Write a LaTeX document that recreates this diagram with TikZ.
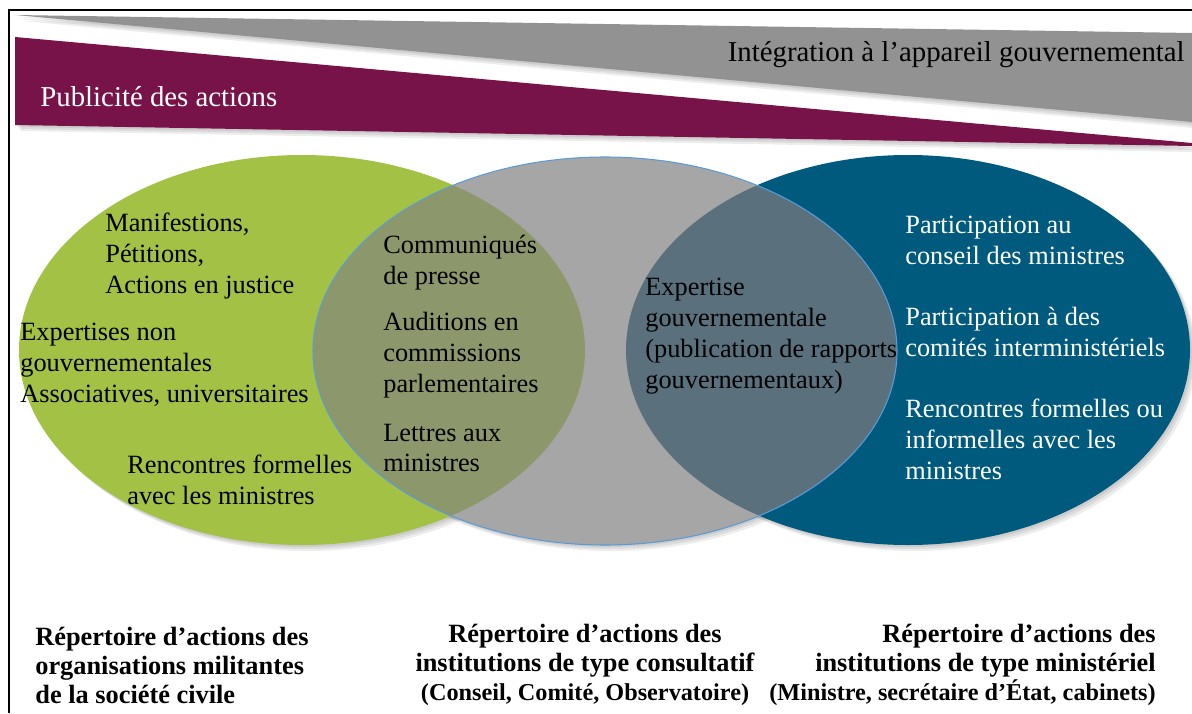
\documentclass[tikz,border=0pt]{standalone}
\usepackage{fontspec}
\setmainfont{Liberation Serif}
\usetikzlibrary{positioning}

\definecolor{plum}{HTML}{78134A}
\definecolor{wedgegray}{HTML}{929292}
\definecolor{leaf}{HTML}{A2C145}
\definecolor{stone}{HTML}{A6A6A6}
\definecolor{ocean}{HTML}{005A7D}
\definecolor{leafstone}{HTML}{8C986C}
\definecolor{oceanstone}{HTML}{5A707D}
\definecolor{rim}{HTML}{5B9BD5}

\begin{document}
\begin{tikzpicture}[x=0.02cm, y=-0.02cm,
  item/.style={font=\fontsize{15}{17.6}\selectfont, align=left, anchor=west, inner sep=0pt},
  repert/.style={font=\fontsize{15}{16.5}\selectfont\bfseries, inner sep=0pt},
  banner/.style={font=\fontsize{16.4}{19}\selectfont, inner sep=0pt},
  shade/.style={fill=black, opacity=0.07}
]
  \useasboundingbox (0,0) rectangle (1192,713);

  % frame
  \draw[line width=0.9pt] (9,713) -- (9,10) -- (1192,10);

  % soft shadows
  \foreach \s in {2,4,6} {
    \fill[shade] (15+\s,15+\s) -- (1192,33+\s) -- (1192,122+\s) -- cycle;
    \fill[shade] (15+\s,37+\s) -- (1192,143+\s) -- (1192,146+\s) -- (15+\s,125+\s) -- cycle;
    \fill[shade] (302+\s,350+\s) ellipse [x radius=283, y radius=195];
    \fill[shade] (605+\s,351+\s) ellipse [x radius=292, y radius=194];
    \fill[shade] (908+\s,350+\s) ellipse [x radius=282, y radius=195];
  }

  % wedges
  \fill[wedgegray] (15,15) -- (1192,33) -- (1192,122) -- cycle;
  \fill[plum] (15,37) -- (1192,143) -- (1192,146) -- (15,125) -- cycle;
  \node[banner, anchor=east] (integ) at (1185,55) {Intégration à l’appareil gouvernemental};
  \node[banner, anchor=west, white] (publ) at (40,97) {Publicité des actions};

  % ellipses
  \fill[leaf]  (302,350) ellipse [x radius=283, y radius=195];
  \fill[ocean] (908,350) ellipse [x radius=282, y radius=195];
  \fill[stone] (605,351) ellipse [x radius=292, y radius=194];
  \begin{scope}
    \clip (605,351) ellipse [x radius=292, y radius=194];
    \fill[leafstone]  (302,350) ellipse [x radius=283, y radius=195];
    \fill[oceanstone] (908,350) ellipse [x radius=282, y radius=195];
  \end{scope}
  \draw[rim, line width=0.6pt] (605,351) ellipse [x radius=292, y radius=194];

  % civil society
  \node[item] (manif) at (105,256) {Manifestions,\\Pétitions,\\Actions en justice};
  \node[item] (expng) at (20,365) {Expertises non\\gouvernementales\\Associatives, universitaires};
  \node[item] (rencv) at (127,480) {Rencontres formelles\\avec les ministres};

  % consultative
  \node[item] (commu) at (383,263) {Communiqués\\de presse};
  \node[item] (audit) at (383,355) {Auditions en\\commissions\\parlementaires};
  \node[item] (lettr) at (383,448) {Lettres aux\\ministres};

  % governmental
  \node[item] (expgv) at (645,336) {Expertise\\gouvernementale\\(publication de rapports\\gouvernementaux)};
  \node[item, white] (partc) at (905,240) {Participation au\\conseil des ministres};
  \node[item, white] (partm) at (905,332) {Participation à des\\comités interministériels};
  \node[item, white] (renmi) at (905,439) {Rencontres formelles ou\\informelles avec les\\ministres};

  % repertoires
  \node[repert, align=left, anchor=west] (repciv) at (35,665)
    {Répertoire d’actions des\\organisations militantes\\de la société civile};
  \node[repert, align=center] (repcons) at (585,665)
    {Répertoire d’actions des\\institutions de type consultatif\\{\fontsize{13.8}{16.5}\selectfont(Conseil, Comité, Observatoire)}};
  \node[repert, align=right, anchor=east] (repmin) at (1156,665)
    {Répertoire d’actions des\\institutions de type ministériel\\{\fontsize{13.8}{16.5}\selectfont(Ministre, secrétaire d’État, cabinets)}};
\end{tikzpicture}
\end{document}
